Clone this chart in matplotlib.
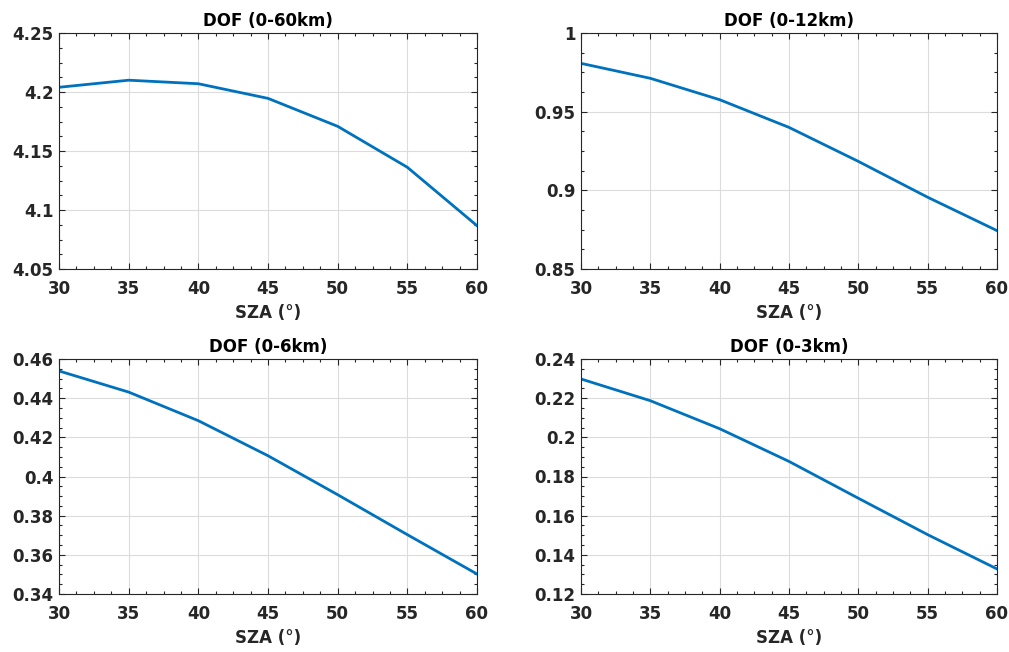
import matplotlib
matplotlib.use("Agg")
import matplotlib.pyplot as plt
from matplotlib.ticker import AutoMinorLocator, FixedLocator, FuncFormatter

plt.rcParams['font.family'] = ['DejaVu Sans']

sza = [30, 35, 40, 45, 50, 55, 60]
dof_60 = [4.2040, 4.2100, 4.2070, 4.1946, 4.1709, 4.1362, 4.0867]
dof_12 = [0.9807, 0.9712, 0.9576, 0.9400, 0.9184, 0.8956, 0.8744]
dof_6 = [0.4539, 0.4431, 0.4285, 0.4106, 0.3907, 0.3703, 0.3502]
dof_3 = [0.2298, 0.2187, 0.2044, 0.1877, 0.1689, 0.1503, 0.1328]

titles = ['DOF (0-60km)', 'DOF (0-12km)', 'DOF (0-6km)', 'DOF (0-3km)']
series = [dof_60, dof_12, dof_6, dof_3]
yticks = [[4.05, 4.1, 4.15, 4.2, 4.25],
          [0.85, 0.9, 0.95, 1.0],
          [0.34, 0.36, 0.38, 0.4, 0.42, 0.44, 0.46],
          [0.12, 0.14, 0.16, 0.18, 0.2, 0.22, 0.24]]
xticks = [30, 35, 40, 45, 50, 55, 60]

positions = [
    [59/1009, 1-269/652, 418/1009, 236/652],
    [581/1009, 1-269/652, 416/1009, 236/652],
    [59/1009, 1-594/652, 418/1009, 235/652],
    [581/1009, 1-594/652, 416/1009, 235/652],
]

def fmt(v, pos):
    s = ('%.4f' % v).rstrip('0').rstrip('.')
    return s

fig = plt.figure(figsize=(10.09, 6.52), dpi=100)
edge = '#262626'
for pos, t, y, yt in zip(positions, titles, series, yticks):
    ax = fig.add_axes(pos)
    ax.plot(sza, y, color='#0072BD', lw=2.0)
    ax.set_xlim(30, 60)
    ax.set_ylim(yt[0], yt[-1])
    ax.xaxis.set_major_locator(FixedLocator(xticks))
    ax.yaxis.set_major_locator(FixedLocator(yt))
    ax.yaxis.set_major_formatter(FuncFormatter(fmt))
    ax.xaxis.set_minor_locator(AutoMinorLocator(4))
    ax.yaxis.set_minor_locator(AutoMinorLocator(4))
    ax.grid(True, which='major', color='#dcdcdc', lw=0.8)
    ax.set_axisbelow(True)
    ax.tick_params(which='both', direction='in', top=True, right=True, colors=edge,
                   labelsize=12, width=0.8)
    ax.tick_params(which='major', length=4)
    ax.tick_params(which='minor', length=2)
    ax.tick_params(axis='x', which='major', pad=8)
    ax.tick_params(axis='y', which='major', pad=4)
    for lab in ax.get_xticklabels() + ax.get_yticklabels():
        lab.set_fontweight('bold')
    for sp in ax.spines.values():
        sp.set_color(edge)
        sp.set_linewidth(0.8)
    ax.set_title(t, fontsize=12, fontweight='bold', pad=5)
    ax.set_xlabel('SZA (°)', fontsize=12, fontweight='bold', color=edge, labelpad=4)

fig.savefig('out.png', dpi=100)
